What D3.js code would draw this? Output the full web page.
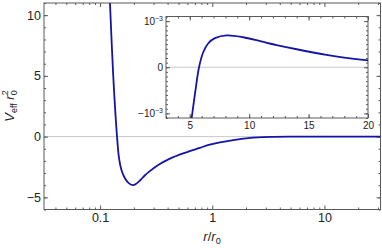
<!DOCTYPE html>
<meta charset="utf-8" />
<script src="https://d3js.org/d3.v7.min.js"></script>
<style>
  body { margin: 0; background: #fff; }
  svg { font-family: "Liberation Sans", Arial, sans-serif; }
</style>
<div id="chart"></div>
<script>
  // main curve (r/r0, V_eff r0^2)
  const mainR = [0.12, 0.1225, 0.131, 0.1416, 0.1476, 0.155, 0.167, 0.181, 0.197, 0.212, 0.23, 0.25, 0.274, 0.338, 0.415, 0.566, 0.772, 0.95, 1.17, 1.44, 1.77, 2.17, 3.29, 5, 8, 31.6];
  const mainV = [12.6, 11, 5, 0, -1.8, -2.75, -3.45, -3.85, -4.0, -3.85, -3.55, -3.2, -2.88, -2.28, -1.83, -1.34, -0.93, -0.66, -0.47, -0.33, -0.2, -0.1, -0.025, -0.001, 0.0007, 0.0001];

  // inset curve (r/r0, V_eff r0^2 in units of 1e-3)
  const insetR = [4.9, 5.16, 5.47, 5.78, 6.14, 6.56, 7.12, 8.11, 9.5, 11, 12.5, 14, 16.5, 18, 20, 20.5];
  const insetV = [-1.65, -1.1, -0.52, 0, 0.33, 0.52, 0.63, 0.69, 0.65, 0.56, 0.47, 0.39, 0.27, 0.21, 0.15, 0.14];

  const mainXTicks = [0.1, 1, 10];
  const mainXMinor = [0.04, 0.05, 0.06, 0.07, 0.08, 0.09, 0.2, 0.3, 0.4, 0.5, 0.6, 0.7, 0.8, 0.9, 2, 3, 4, 5, 6, 7, 8, 9, 20, 30];
  const mainYTicks = [-5, 0, 5, 10];
  const insetXTicks = [5, 10, 15, 20];
  const insetYTicks = [-1, 0, 1];

  const W = 382, H = 248;
  const frameCol = "#5a5a5a", curveCol = "#1414a8";
  const fontFam = '"Liberation Sans", Arial, sans-serif';

  const svg = d3.select("#chart").append("svg").attr("width", W).attr("height", H);

  // main plot box
  const m = { left: 44, right: 380.5, top: 3, bottom: 209.5 };
  const x = d3.scaleLog().domain([Math.pow(10, -1.5), Math.pow(10, 1.5)]).range([m.left, m.right]);
  const y = d3.scaleLinear().domain([-6, 11]).range([m.bottom, m.top]);

  // inset box
  const n = { left: 166, right: 368, top: 16.5, bottom: 118 };
  const xi = d3.scaleLinear().domain([3, 20]).range([n.left, n.right]);
  const yi = d3.scaleLinear().domain([-1.1, 1.1]).range([n.bottom, n.top]);

  function styleAxis(g, size) {
    g.select(".domain").remove();
    g.selectAll(".tick line").attr("stroke", frameCol);
    g.attr("font-family", fontFam).attr("font-size", size);
    g.selectAll("text").attr("fill", "#222");
  }

  function frame(box, xs, ys, xMaj, xMin, yMaj, yMin, size, clipId) {
    // zero gridline
    svg.append("line")
      .attr("x1", box.left).attr("x2", box.right)
      .attr("y1", ys(0)).attr("y2", ys(0))
      .attr("stroke", "#c8c8c8").attr("stroke-width", 1);
    svg.append("clipPath").attr("id", clipId).append("rect")
      .attr("x", box.left).attr("y", box.top)
      .attr("width", box.right - box.left).attr("height", box.bottom - box.top);

    const maj = 4, mnr = 2;
    svg.append("g").attr("transform", `translate(0,${box.bottom})`)
      .call(d3.axisBottom(xs).tickValues(xMaj).tickSize(-maj).tickPadding(4).tickFormat(d3.format("")))
      .call(g => styleAxis(g, size));
    svg.append("g").attr("transform", `translate(0,${box.bottom})`)
      .call(d3.axisBottom(xs).tickValues(xMin).tickSize(-mnr).tickFormat(""))
      .call(g => styleAxis(g, size));
    svg.append("g").attr("transform", `translate(0,${box.top})`)
      .call(d3.axisTop(xs).tickValues(xMaj).tickSize(-maj).tickFormat(""))
      .call(g => styleAxis(g, size));
    svg.append("g").attr("transform", `translate(0,${box.top})`)
      .call(d3.axisTop(xs).tickValues(xMin).tickSize(-mnr).tickFormat(""))
      .call(g => styleAxis(g, size));

    const left = svg.append("g").attr("transform", `translate(${box.left},0)`)
      .call(d3.axisLeft(ys).tickValues(yMaj).tickSize(-maj).tickPadding(3).tickFormat(d3.format("")))
      .call(g => styleAxis(g, size));
    svg.append("g").attr("transform", `translate(${box.left},0)`)
      .call(d3.axisLeft(ys).tickValues(yMin).tickSize(-mnr).tickFormat(""))
      .call(g => styleAxis(g, size));
    svg.append("g").attr("transform", `translate(${box.right},0)`)
      .call(d3.axisRight(ys).tickValues(yMaj).tickSize(-maj).tickFormat(""))
      .call(g => styleAxis(g, size));
    svg.append("g").attr("transform", `translate(${box.right},0)`)
      .call(d3.axisRight(ys).tickValues(yMin).tickSize(-mnr).tickFormat(""))
      .call(g => styleAxis(g, size));

    svg.append("rect")
      .attr("x", box.left).attr("y", box.top)
      .attr("width", box.right - box.left).attr("height", box.bottom - box.top)
      .attr("fill", "none").attr("stroke", frameCol).attr("stroke-width", 1);
    return left;
  }

  // ---- main plot ----
  frame(m, x, y, mainXTicks, mainXMinor, mainYTicks, d3.range(-6, 12), 12.5, "clipMain");

  const mainData = mainR.map((r, i) => [r, mainV[i]]);
  svg.append("path")
    .datum(mainData)
    .attr("clip-path", "url(#clipMain)")
    .attr("fill", "none")
    .attr("stroke", curveCol)
    .attr("stroke-width", 1.8)
    .attr("d", d3.line().x(d => x(d[0])).y(d => y(d[1])).curve(d3.curveCatmullRom.alpha(0.5)));

  // ---- inset ----
  svg.append("rect")
    .attr("x", n.left).attr("y", n.top)
    .attr("width", n.right - n.left).attr("height", n.bottom - n.top)
    .attr("fill", "#fff");

  const insetLeft = frame(n, xi, yi, insetXTicks, d3.range(3, 21), insetYTicks,
    d3.range(-11, 12).map(d => d / 10), 10, "clipInset");

  // y labels of inset: 10^-3 style
  insetLeft.selectAll(".tick text").each(function (d) {
    const t = d3.select(this).text("");
    if (d === 0) { t.text("0"); return; }
    t.append("tspan").text(d < 0 ? "\u221210" : "10");
    t.append("tspan").attr("dy", -4).attr("font-size", 7).text("\u22123");
  });

  const insetData = insetR.map((r, i) => [r, insetV[i]]);
  svg.append("path")
    .datum(insetData)
    .attr("clip-path", "url(#clipInset)")
    .attr("fill", "none")
    .attr("stroke", curveCol)
    .attr("stroke-width", 1.8)
    .attr("d", d3.line().x(d => xi(d[0])).y(d => yi(d[1])).curve(d3.curveCatmullRom.alpha(0.5)));

  // ---- axis titles ----
  const yl = svg.append("text")
    .attr("transform", "translate(14,106) rotate(-90)")
    .attr("text-anchor", "middle")
    .attr("font-size", 13)
    .attr("fill", "#222");
  yl.append("tspan").attr("font-style", "italic").text("V");
  yl.append("tspan").attr("dy", 3).attr("font-size", 9).text("eff");
  yl.append("tspan").attr("dy", -3).text(" ");
  yl.append("tspan").attr("font-style", "italic").text("r");
  yl.append("tspan").attr("dy", 3).attr("font-size", 9).text("0");
  yl.append("tspan").attr("dx", -5).attr("dy", -9).attr("font-size", 9).text("2");

  const xl = svg.append("text")
    .attr("x", 212).attr("y", 241)
    .attr("text-anchor", "middle")
    .attr("font-size", 13)
    .attr("fill", "#222");
  xl.append("tspan").attr("font-style", "italic").text("r");
  xl.append("tspan").text("/");
  xl.append("tspan").attr("font-style", "italic").text("r");
  xl.append("tspan").attr("dy", 3).attr("font-size", 9).text("0");
</script>
